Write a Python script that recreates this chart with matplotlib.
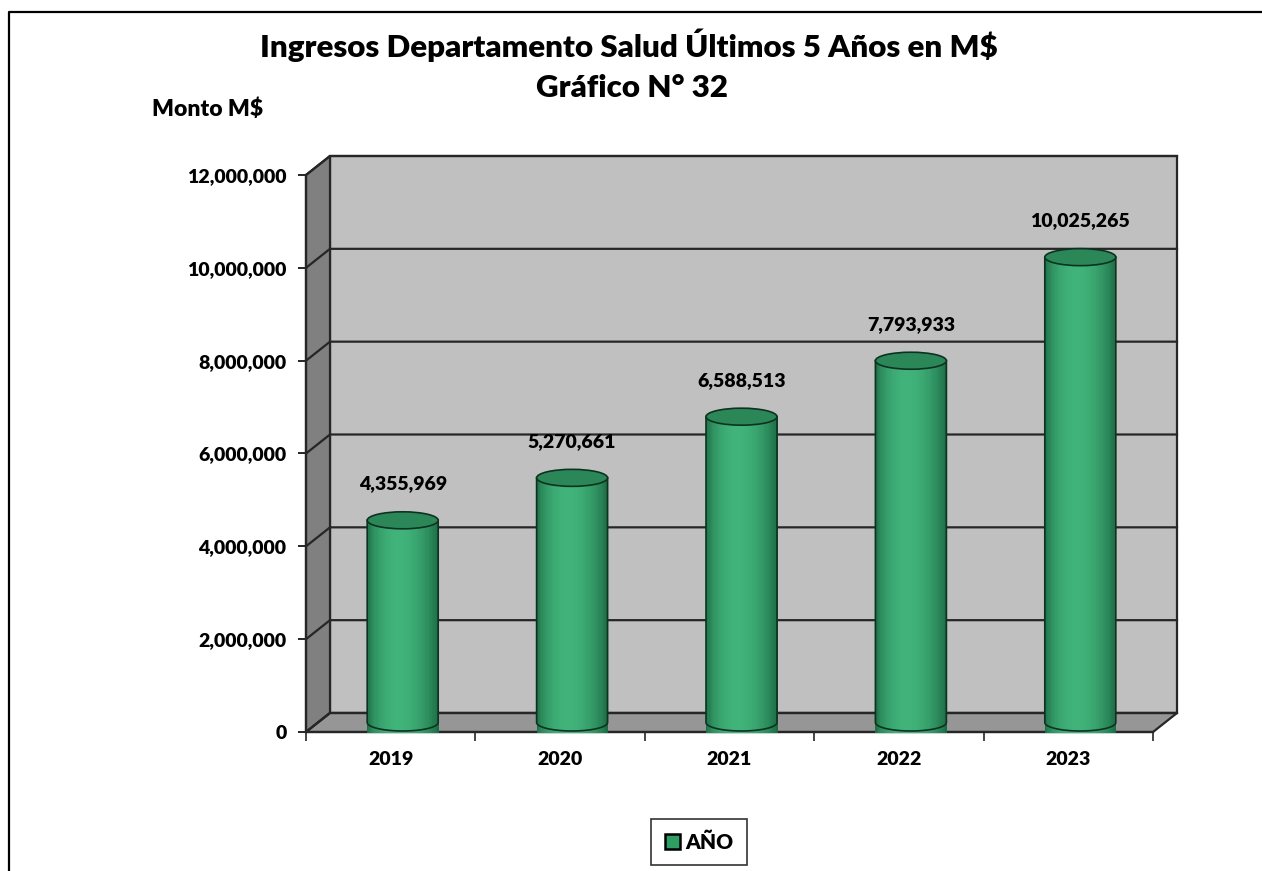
import numpy as np
import matplotlib.pyplot as plt
from matplotlib.patches import Polygon, Ellipse, Rectangle, Patch
from matplotlib.transforms import IdentityTransform
from matplotlib.lines import Line2D

# Datos del gráfico
anios = ['2019', '2020', '2021', '2022', '2023']
montos = [4355969, 5270661, 6588513, 7793933, 10025265]
ticks_y = [0, 2000000, 4000000, 6000000, 8000000, 10000000, 12000000]

plt.rcParams['font.family'] = ['Lato', 'DejaVu Sans']
peso = 'heavy'
plt.rcParams['font.weight'] = peso

fig = plt.figure(figsize=(12.62, 8.71), dpi=100)
ax = fig.add_axes([306/1262, 1-732/871, 847/1262, 557/871])
ax.set_xlim(-0.5, 4.5)
ax.set_ylim(0, 12000000)
ax.patch.set_visible(False)

# profundidad del efecto 3D (pixeles)
prof = np.array([24.0, 19.0])
ident = IdentityTransform()
oscuro = '#262626'


def px(x, y, f=0.0):
    return ax.transData.transform((x, y)) + f*prof


def poligono(puntos, color, z):
    p = Polygon(puntos, closed=True, facecolor=color, edgecolor=oscuro,
                linewidth=1.6, transform=ident, clip_on=False, zorder=z)
    ax.add_patch(p)


x0, x1 = -0.5, 4.5
ymax = ticks_y[-1]
# pared de fondo, pared lateral y piso
poligono([px(x0, 0, 1), px(x1, 0, 1), px(x1, ymax, 1), px(x0, ymax, 1)], '#c0c0c0', 0.1)
poligono([px(x0, 0, 0), px(x0, 0, 1), px(x0, ymax, 1), px(x0, ymax, 0)], '#808080', 0.2)
poligono([px(x0, 0, 0), px(x1, 0, 0), px(x1, 0, 1), px(x0, 0, 1)], '#969696', 0.3)

# lineas de division
for yv in ticks_y:
    a, b, c = px(x0, yv, 0), px(x0, yv, 1), px(x1, yv, 1)
    ax.add_line(Line2D([a[0], b[0], c[0]], [a[1], b[1], c[1]], color=oscuro,
                       linewidth=1.6, transform=ident, clip_on=False, zorder=0.4))

# cilindros
verde_osc = np.array([0x1a, 0x66, 0x40])/255
verde_cla = np.array([0x40, 0xb3, 0x7a])/255
n_tiras = 60
for i, v in enumerate(montos):
    base = px(i, 0, 0.5)
    tope = px(i, v, 0.5)
    cx = base[0]
    w = 35.5
    h = 8.5
    ang = np.linspace(np.pi, 2*np.pi, 40)
    silueta = [(cx - w, tope[1])]
    silueta += [(cx + w*np.cos(t), base[1] + h*np.sin(t)) for t in ang]
    silueta += [(cx + w, tope[1])]
    sil = Polygon(silueta, closed=True, facecolor='none', edgecolor='none',
                  transform=ident, clip_on=False, zorder=1)
    ax.add_patch(sil)
    bordes = np.linspace(cx - w, cx + w, n_tiras + 1)
    for k in range(n_tiras):
        t = (k + 0.5)/n_tiras
        luz = np.sin(np.pi*t**0.85)**0.7
        col = verde_osc + (verde_cla - verde_osc)*luz
        r = Rectangle((bordes[k], base[1] - h - 2), bordes[k+1] - bordes[k] + 0.5,
                      tope[1] - base[1] + h + 2, facecolor=col, edgecolor='none',
                      transform=ident, clip_on=False, zorder=1)
        ax.add_patch(r)
        r.set_clip_path(sil)
    borde = Polygon(silueta, closed=True, facecolor='none', edgecolor='#0d3320',
                    linewidth=1.2, transform=ident, clip_on=False, zorder=1.1)
    ax.add_patch(borde)
    ax.add_patch(Ellipse((cx, tope[1]), 2*w, 2*h, facecolor='#2c8758',
                         edgecolor='#0d3320', linewidth=1.2, transform=ident,
                         clip_on=False, zorder=1.2))
    ax.annotate(f'{v:,}', xy=(i, v), xytext=(cx - px(i, v)[0], 46),
                textcoords='offset pixels', ha='center', va='center',
                fontsize=14, fontweight=peso, zorder=3)

# ejes
for s in ['top', 'right']:
    ax.spines[s].set_visible(False)
for s in ['left', 'bottom']:
    ax.spines[s].set_color(oscuro)
    ax.spines[s].set_linewidth(1.6)
    ax.spines[s].set_zorder(0.5)
ax.set_yticks(ticks_y)
ax.set_yticklabels([f'{t:,}' for t in ticks_y])
ax.tick_params(axis='y', direction='out', length=6, width=1.4, color=oscuro,
               pad=8, labelsize=14)
ax.set_xticks(range(len(anios)))
ax.set_xticklabels(anios)
ax.set_xticks(np.arange(-0.5, len(anios)), minor=True)
ax.tick_params(axis='x', which='major', length=0, pad=13.5, labelsize=14)
ax.tick_params(axis='x', which='minor', direction='out', length=6.5, width=1.2,
               color=oscuro)

# titulos
fig.text(629/1262, 1-45/871, 'Ingresos Departamento Salud Últimos 5 Años en M$',
         ha='center', va='center', fontsize=22.5, fontweight=peso)
fig.text(632/1262, 1-88/871, 'Gráfico N° 32', ha='center', va='center',
         fontsize=22.5, fontweight=peso)
fig.text(208/1262, 1-109/871, 'Monto M$', ha='center', va='center',
         fontsize=16.5, fontweight=peso)

# leyenda
ley = fig.legend(handles=[Patch(facecolor='#2e9e64', edgecolor='black', linewidth=1.8,
                                label='AÑO')],
                 loc='center', bbox_to_anchor=(699/1262, 1-842/871),
                 fontsize=15, frameon=True, fancybox=False, handlelength=0.75,
                 handleheight=0.75, handletextpad=0.25, borderpad=0.65,
                 borderaxespad=0)
ley.get_frame().set_edgecolor('black')
ley.get_frame().set_linewidth(1.2)
for t in ley.get_texts():
    t.set_fontweight(peso)

# marco exterior
fig.add_artist(Line2D([9/1262, 9/1262, 1.0], [0.0, 1-12/871, 1-12/871],
                      color='black', linewidth=1.6, transform=fig.transFigure))

plt.savefig('out.png', dpi=100)
